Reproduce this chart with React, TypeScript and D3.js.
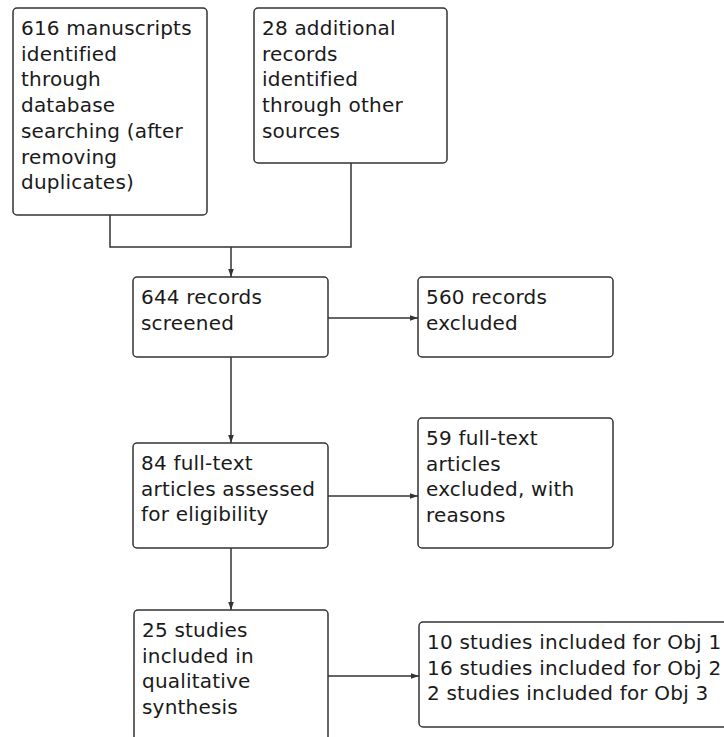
import * as d3 from "d3";

// box labels, one entry per line
const sourceDb = ["616 manuscripts", "identified", "through", "database", "searching (after", "removing", "duplicates)"];
const sourceOther = ["28 additional", "records", "identified", "through other", "sources"];
const screened = ["644 records", "screened"];
const excluded = ["560 records", "excluded"];
const fullText = ["84 full-text", "articles assessed", "for eligibility"];
const fullTextExcluded = ["59 full-text", "articles", "excluded, with", "reasons"];
const included = ["25 studies", "included in", "qualitative", "synthesis"];
const byObjective = ["10 studies included for Obj 1", "16 studies included for Obj 2", "2 studies included for Obj 3"];

const W = 724;
const H = 737;

// layout of the boxes (x0, y0, x1, y1) in pixels
const boxes = [
  { id: "db", lines: sourceDb, x0: 13, y0: 8, x1: 207, y1: 215 },
  { id: "other", lines: sourceOther, x0: 254, y0: 8, x1: 447, y1: 163 },
  { id: "screen", lines: screened, x0: 133, y0: 277, x1: 328, y1: 357 },
  { id: "excl", lines: excluded, x0: 418, y0: 277, x1: 613, y1: 357 },
  { id: "full", lines: fullText, x0: 133, y0: 443, x1: 328, y1: 548 },
  { id: "fullExcl", lines: fullTextExcluded, x0: 418, y0: 418, x1: 613, y1: 548 },
  { id: "incl", lines: included, x0: 134, y0: 610, x1: 328, y1: 760 },
  { id: "obj", lines: byObjective, x0: 419, y0: 622, x1: 740, y1: 727 },
];

const stroke = "#333";
const lineH = 25.7;

export default function App() {
  const line = d3.line();
  const midX = 231;

  // plain connectors (no arrowhead)
  const plain: [number, number][][] = [
    [[110, 215], [110, 247], [351, 247], [351, 163]],
  ];
  // connectors ending in an arrowhead
  const arrows: [number, number][][] = [
    [[midX, 247], [midX, 277]],
    [[328, 318], [418, 318]],
    [[midX, 357], [midX, 443]],
    [[328, 496], [418, 496]],
    [[midX, 548], [midX, 610]],
    [[328, 676], [419, 676]],
  ];

  return (
    <svg
      width={W}
      height={H}
      style={{ position: "absolute", left: 0, top: 0, background: "#fff" }}
      fontFamily="DejaVu Sans, sans-serif"
    >
      <defs>
        <marker id="arr" viewBox="0 0 10 10" refX="10" refY="5" markerWidth="8" markerHeight="8" orient="auto" markerUnits="userSpaceOnUse">
          <path d="M0,1.5 L10,5 L0,8.5 Z" fill={stroke} />
        </marker>
      </defs>
      {plain.map((p, i) => (
        <path key={"p" + i} d={line(p) ?? ""} fill="none" stroke={stroke} strokeWidth={1.5} />
      ))}
      {arrows.map((p, i) => (
        <path key={"a" + i} d={line(p) ?? ""} fill="none" stroke={stroke} strokeWidth={1.5} markerEnd="url(#arr)" />
      ))}
      {boxes.map((b) => (
        <g key={b.id}>
          <rect
            x={b.x0}
            y={b.y0}
            width={b.x1 - b.x0}
            height={b.y1 - b.y0}
            rx={4}
            fill="#fff"
            stroke={stroke}
            strokeWidth={1.5}
          />
          <text fontSize={20} letterSpacing={0.2} fill="#1a1a1a">
            {b.lines.map((t, i) => (
              <tspan key={i} x={b.x0 + 8} y={b.y0 + 27 + i * lineH}>
                {t}
              </tspan>
            ))}
          </text>
        </g>
      ))}
    </svg>
  );
}
